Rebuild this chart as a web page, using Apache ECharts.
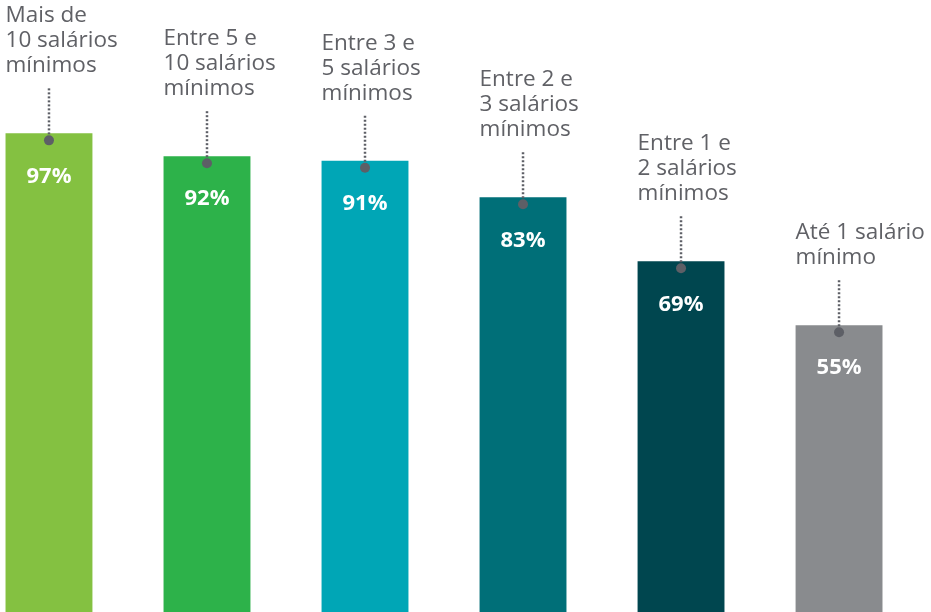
<!DOCTYPE html>
<html>
<head>
<meta charset="utf-8">
<title>Salários mínimos</title>
<script src="https://cdn.jsdelivr.net/npm/echarts@6/dist/echarts.min.js"></script>
<style>
  html, body { margin: 0; padding: 0; background: #fff; }
  #chart { width: 931px; height: 612px; }
</style>
</head>
<body>
<div id="chart"></div>
<script>
// dados
var categorias = [
  'Mais de\n10 salários\nmínimos',
  'Entre 5 e\n10 salários\nmínimos',
  'Entre 3 e\n5 salários\nmínimos',
  'Entre 2 e\n3 salários\nmínimos',
  'Entre 1 e\n2 salários\nmínimos',
  'Até 1 salário\nmínimo'
];
var percentuais = [97, 92, 91, 83, 69, 55];

// cores das barras
var cores = ['#84c141', '#2db24a', '#00a6b6', '#006f78', '#00464f', '#898b8e'];
var corTexto = '#606166';
var corPonto = '#5d5f66';

var chart = echarts.init(document.getElementById('chart'));

// desenha barra + linha pontilhada + ponto + rótulos
function renderItem(params, api) {
  var i = api.value(0);
  var topo = api.coord([i, api.value(1)]);
  var base = params.coordSys.y + params.coordSys.height;
  var larg = api.size([1, 0])[0] * 0.55;
  var x = topo[0], y = topo[1];
  var yPonto = y + 7;
  return {
    type: 'group',
    children: [
      {
        type: 'rect',
        shape: { x: x - larg / 2, y: y, width: larg, height: base - y },
        style: { fill: cores[i] }
      },
      {
        type: 'line',
        shape: { x1: x, y1: yPonto - 52, x2: x, y2: yPonto },
        style: { stroke: corPonto, lineWidth: 2.5, lineDash: [2, 2] }
      },
      {
        type: 'circle',
        shape: { cx: x, cy: yPonto, r: 5 },
        style: { fill: corPonto }
      },
      {
        type: 'text',
        style: {
          text: api.value(1) + '%',
          x: x, y: y + 43,
          align: 'center', verticalAlign: 'middle',
          fill: '#fff',
          font: 'bold 22px "Open Sans"'
        }
      },
      {
        type: 'text',
        style: {
          text: categorias[i],
          x: x - larg / 2, y: y - 55,
          align: 'left', verticalAlign: 'bottom',
          fill: corTexto,
          font: '22.5px "Open Sans"',
          lineHeight: 25
        }
      }
    ]
  };
}

chart.setOption({
  animation: false,
  grid: { left: 0, right: 0, top: 0, bottom: 0 },
  xAxis: {
    type: 'value',
    min: -0.31,
    max: 5.582,
    show: false
  },
  yAxis: {
    type: 'value',
    min: -7.8,
    max: 126.2,
    show: false
  },
  series: [{
    type: 'custom',
    renderItem: renderItem,
    clip: false,
    encode: { x: 0, y: 1 },
    data: percentuais.map(function (v, i) { return [i, v]; })
  }]
});
</script>
</body>
</html>
